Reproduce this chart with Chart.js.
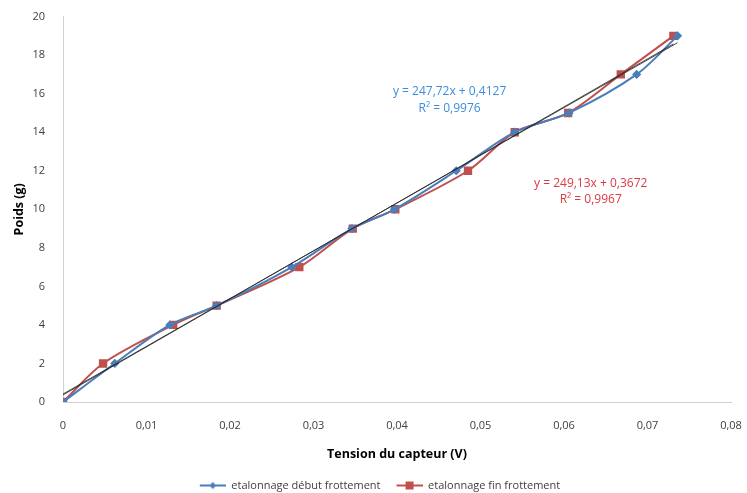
<!DOCTYPE html>
<html><head><meta charset="utf-8">
<script src="https://cdn.jsdelivr.net/npm/chart.js@4.4.0/dist/chart.umd.min.js"></script>
<style>html,body{margin:0;padding:0;background:#fff}</style>
</head><body>
<canvas id="c" width="747" height="493"></canvas>
<script>
const seriesNames = ['etalonnage début frottement', 'etalonnage fin frottement'];
const debutX = [0, 0.0062, 0.0128, 0.0184, 0.0274, 0.0346, 0.0397, 0.0471, 0.0541, 0.0606, 0.0687, 0.0736];
const debutY = [0, 2, 4, 5, 7, 9, 10, 12, 14, 15, 17, 19];
const finX = [0, 0.0048, 0.0132, 0.0184, 0.0283, 0.0347, 0.0398, 0.0485, 0.0541, 0.0605, 0.0668, 0.0731];
const finY = [0, 2, 4, 5, 7, 9, 10, 12, 14, 15, 17, 19];
const trendDebut = {slope: 247.72, intercept: 0.4127, r2: '0,9976', label: 'y = 247,72x + 0,4127'};
const trendFin = {slope: 249.13, intercept: 0.3672, r2: '0,9967', label: 'y = 249,13x + 0,3672'};
const xTicks = [0, 0.01, 0.02, 0.03, 0.04, 0.05, 0.06, 0.07, 0.08];
const yTicks = [0, 2, 4, 6, 8, 10, 12, 14, 16, 18, 20];

const BLUE = '#4a7ebb', RED = '#c0504d';
const FONT = "'Open Sans', 'Liberation Sans', sans-serif";

function pts(xs, ys){ return xs.map((x,i)=>({x:x, y:ys[i]})); }
function trendPts(t, xs){
  const x0 = Math.min(...xs), x1 = Math.max(...xs);
  return [{x:x0, y:t.slope*x0+t.intercept},{x:x1, y:t.slope*x1+t.intercept}];
}
const GAP = 16;
function legendIcon(color, shape){
  const c = document.createElement('canvas'); c.width = 26 + GAP; c.height = 10;
  const g = c.getContext('2d');
  g.strokeStyle = color; g.lineWidth = 2;
  g.beginPath(); g.moveTo(GAP,5); g.lineTo(GAP+26,5); g.stroke();
  g.fillStyle = color;
  const m = GAP + 13;
  if (shape === 'rect'){ g.fillRect(m-4,1,8,8); }
  else { g.beginPath(); g.moveTo(m,1.5); g.lineTo(m+3.5,5); g.lineTo(m,8.5); g.lineTo(m-3.5,5); g.closePath(); g.fill(); }
  return c;
}
const icons = [legendIcon(BLUE,'diamond'), legendIcon(RED,'rect')];

const annot = {
  id: 'annot',
  afterDatasetsDraw(chart){
    const {ctx, scales:{x, y}} = chart;
    ctx.save();
    ctx.font = "12px " + FONT;
    ctx.textAlign = 'center'; ctx.textBaseline = 'middle';
    ctx.fillStyle = '#3b8de0';
    let px = x.getPixelForValue(0.0463), py = y.getPixelForValue(16.1);
    ctx.fillText(trendDebut.label, px, py);
    ctx.fillText('R² = ' + trendDebut.r2, px, py + 17);
    ctx.fillStyle = '#dc3a40';
    px = x.getPixelForValue(0.0632); py = y.getPixelForValue(11.32);
    ctx.fillText(trendFin.label, px, py);
    ctx.fillText('R² = ' + trendFin.r2, px, py + 16);
    ctx.restore();
  }
};

new Chart(document.getElementById('c'), {
  type: 'scatter',
  data: {
    datasets: [
      {label: seriesNames[0], data: pts(debutX, debutY), showLine: true, tension: 0.3,
       borderColor: BLUE, backgroundColor: BLUE, borderWidth: 2, pointStyle: 'rectRot', pointRadius: 3.2, order: 2},
      {label: seriesNames[1], data: pts(finX, finY), showLine: true, tension: 0.3,
       borderColor: RED, backgroundColor: RED, borderWidth: 2, pointStyle: 'rect', pointRadius: 4.5, order: 3},
      {label: 'trend1', data: trendPts(trendDebut, debutX), showLine: true, borderColor: 'rgba(40,40,40,0.85)', borderWidth: 1, pointRadius: 0, order: 1},
      {label: 'trend2', data: trendPts(trendFin, finX), showLine: true, borderColor: 'rgba(40,40,40,0.85)', borderWidth: 1, pointRadius: 0, order: 1}
    ]
  },
  options: {
    responsive: false, animation: false,
    layout: {padding: {top: 10, right: 3, left: 0, bottom: -8}},
    plugins: {
      tooltip: {enabled: false},
      legend: {
        position: 'bottom',
        labels: {
          usePointStyle: true, pointStyleWidth: 26 + GAP, color: '#404040', font: {family: FONT, size: 11}, padding: 0,
          filter: (item) => item.datasetIndex < 2,
          generateLabels: (chart) => chart.data.datasets.slice(0,2).map((d,i)=>({
            text: d.label, pointStyle: icons[i], fillStyle: d.borderColor, strokeStyle: d.borderColor,
            lineWidth: 0, datasetIndex: i, hidden: false, fontColor: '#404040'
          }))
        }
      }
    },
    scales: {
      x: {
        type: 'linear', min: 0, max: 0.08,
        afterBuildTicks: (ax) => { ax.ticks = xTicks.map(v=>({value:v})); },
        afterFit: (ax) => { ax.height = 78; ax.paddingRight = 16; },
        ticks: {color: '#404040', font: {family: FONT, size: 11}, padding: 9,
          callback: (v) => v === 0 ? '0' : (Math.round(v*100)/100).toFixed(2).replace('.', ',')},
        grid: {display: false},
        border: {display: true, color: '#d0d0d0', width: 1},
        title: {display: true, text: 'Tension du capteur (V)', color: '#000', font: {family: FONT, size: 12.5, weight: 'bold'}, padding: {top: 10, bottom: 18}}
      },
      y: {
        min: 0, max: 20,
        afterBuildTicks: (ax) => { ax.ticks = yTicks.map(v=>({value:v})); },
        afterFit: (ax) => { ax.width = 63; },
        ticks: {color: '#404040', font: {family: FONT, size: 11}, padding: 10},
        grid: {display: false},
        border: {display: true, color: '#d0d0d0', width: 1},
        title: {display: true, text: 'Poids (g)', color: '#000', font: {family: FONT, size: 12.5, weight: 'bold'}, padding: {top: 12, bottom: 4}}
      }
    }
  },
  plugins: [annot]
});
</script>
</body></html>
